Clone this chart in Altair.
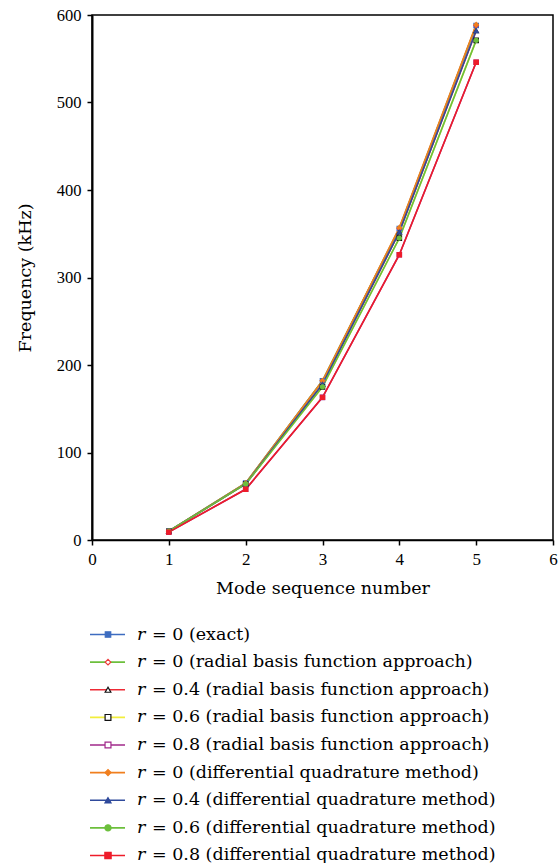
import altair as alt
import pandas as pd

modes = [1, 2, 3, 4, 5]

series_names = [
    "r = 0 (exact)",
    "r = 0 (radial basis function approach)",
    "r = 0.4 (radial basis function approach)",
    "r = 0.6 (radial basis function approach)",
    "r = 0.8 (radial basis function approach)",
    "r = 0 (differential quadrature method)",
    "r = 0.4 (differential quadrature method)",
    "r = 0.6 (differential quadrature method)",
    "r = 0.8 (differential quadrature method)",
]
legend_rest = [
    "= 0 (exact)",
    "= 0 (radial basis function approach)",
    "= 0.4 (radial basis function approach)",
    "= 0.6 (radial basis function approach)",
    "= 0.8 (radial basis function approach)",
    "= 0 (differential quadrature method)",
    "= 0.4 (differential quadrature method)",
    "= 0.6 (differential quadrature method)",
    "= 0.8 (differential quadrature method)",
]

exact_r0 = [10, 65, 182, 356, 588]
rbf_r0 = [10, 65, 182, 356, 588]
rbf_r04 = [10, 64, 178, 352, 582]
rbf_r06 = [10, 64, 175, 345, 571]
rbf_r08 = [9, 58, 163, 326, 546]
dqm_r0 = [10, 65, 182, 357, 589]
dqm_r04 = [10, 64, 178, 352, 582]
dqm_r06 = [10, 64, 175, 345, 571]
dqm_r08 = [9, 58, 163, 326, 546]

all_values = [exact_r0, rbf_r0, rbf_r04, rbf_r06, rbf_r08, dqm_r0, dqm_r04, dqm_r06, dqm_r08]

line_colors = ["#3d6cc0", "#6cbf3c", "#ee2a35", "#f2ee3c", "#a0288a",
               "#f07f1e", "#2f4a9c", "#6cbf3c", "#ee1c2a"]
fill_colors = ["#3d6cc0", "white", "white", "white", "white",
               "#f07f1e", "#2f4a9c", "#6cbf3c", "#ee1c2a"]
stroke_colors = ["#3d6cc0", "#ee3a3a", "#111111", "#111111", "#a0288a",
                 "#f07f1e", "#2f4a9c", "#6cbf3c", "#ee1c2a"]
shapes = ["square", "diamond", "triangle-up", "square", "square",
          "diamond", "triangle-up", "circle", "square"]
plot_sizes = [20, 18, 18, 16, 16, 50, 50, 40, 55]
legend_sizes = [30, 40, 40, 45, 45, 55, 60, 55, 90]

rows = []
for i, (name, vals) in enumerate(zip(series_names, all_values)):
    for m, v in zip(modes, vals):
        rows.append({"series": name, "order": i, "mode": m, "freq": v})
df = pd.DataFrame(rows)

FONT = "DejaVu Serif"
TICKFONT = "Liberation Serif"

x_enc = alt.X("mode:Q", scale=alt.Scale(domain=[0, 6], nice=False),
              axis=alt.Axis(values=[0, 1, 2, 3, 4, 5, 6], format="d", title="Mode sequence number",
                            grid=False, tickSize=5, domainColor="black", tickColor="black",
                            domainWidth=1.5, tickWidth=1.5, labelFont=TICKFONT, labelFontSize=17,
                            labelColor="black", titleFont=FONT, titleFontSize=17.5,
                            titleFontWeight="normal", titleColor="black", labelPadding=6,
                            titlePadding=12, labelFlush=False))
y_enc = alt.Y("freq:Q", scale=alt.Scale(domain=[0, 600], nice=False),
              axis=alt.Axis(values=[0, 100, 200, 300, 400, 500, 600], title="Frequency (kHz)",
                            grid=False, tickSize=5, domainColor="black", tickColor="black",
                            domainWidth=2, tickWidth=1.5, labelFont=TICKFONT, labelFontSize=16.5,
                            labelColor="black", titleFont=FONT, titleFontSize=17.5,
                            titleFontWeight="normal", titleColor="black", labelPadding=6,
                            titlePadding=22, labelFlush=False))

sc = alt.Scale(domain=series_names, range=line_colors)

lines = alt.Chart(df).mark_line(strokeWidth=1.6).encode(
    x=x_enc, y=y_enc,
    color=alt.Color("series:N", scale=sc, legend=None),
    order=alt.Order("mode:Q"),
)

points = alt.Chart(df).mark_point(filled=False, opacity=1, strokeWidth=1.2).encode(
    x="mode:Q", y="freq:Q",
    shape=alt.Shape("series:N", scale=alt.Scale(domain=series_names, range=shapes), legend=None),
    fill=alt.Fill("series:N", scale=alt.Scale(domain=series_names, range=fill_colors), legend=None),
    stroke=alt.Stroke("series:N", scale=alt.Scale(domain=series_names, range=stroke_colors), legend=None),
    size=alt.Size("series:N", scale=alt.Scale(domain=series_names, range=plot_sizes), legend=None),
    order=alt.Order("order:Q"),
)

main = alt.layer(lines, points).properties(
    width=461, height=525, view=alt.ViewBackground(stroke="black", strokeWidth=1.5))

# custom legend
leg_df = pd.DataFrame({
    "series": series_names,
    "rtext": ["r"] * len(series_names),
    "rest": legend_rest,
})
y_leg = alt.Y("series:N", sort=series_names, axis=None,
              scale=alt.Scale(type="point", padding=0.2))

leg_lines = alt.Chart(leg_df).mark_rule(strokeWidth=1.6).encode(
    y=y_leg,
    x=alt.value(-2), x2=alt.value(33),
    color=alt.Color("series:N", scale=sc, legend=None),
)
leg_points = alt.Chart(leg_df).mark_point(opacity=1, strokeWidth=1.2).encode(
    y=y_leg,
    x=alt.value(16),
    shape=alt.Shape("series:N", scale=alt.Scale(domain=series_names, range=shapes), legend=None),
    fill=alt.Fill("series:N", scale=alt.Scale(domain=series_names, range=fill_colors), legend=None),
    stroke=alt.Stroke("series:N", scale=alt.Scale(domain=series_names, range=stroke_colors), legend=None),
    size=alt.Size("series:N", scale=alt.Scale(domain=series_names, range=legend_sizes), legend=None),
)
leg_r = alt.Chart(leg_df).mark_text(font=FONT, fontSize=17.5, fontStyle="italic", align="left",
                                    baseline="middle", color="black").encode(
    y=y_leg, x=alt.value(45), text="rtext:N")
leg_rest = alt.Chart(leg_df).mark_text(font=FONT, fontSize=17.5, align="left",
                                       baseline="middle", color="black").encode(
    y=y_leg, x=alt.value(60), text="rest:N")

legend = alt.layer(leg_lines, leg_points, leg_r, leg_rest).properties(
    width=461, height=232, view=alt.ViewBackground(stroke=None))

chart = alt.vconcat(main, legend, spacing=27).resolve_scale(
    color="independent", shape="independent", fill="independent",
    stroke="independent", size="independent", y="independent", x="independent"
).configure(padding={"left": 15, "top": 6, "right": 0, "bottom": 0}, background="white")

chart.save("out.html", embed_options={"renderer": "svg", "actions": False})
